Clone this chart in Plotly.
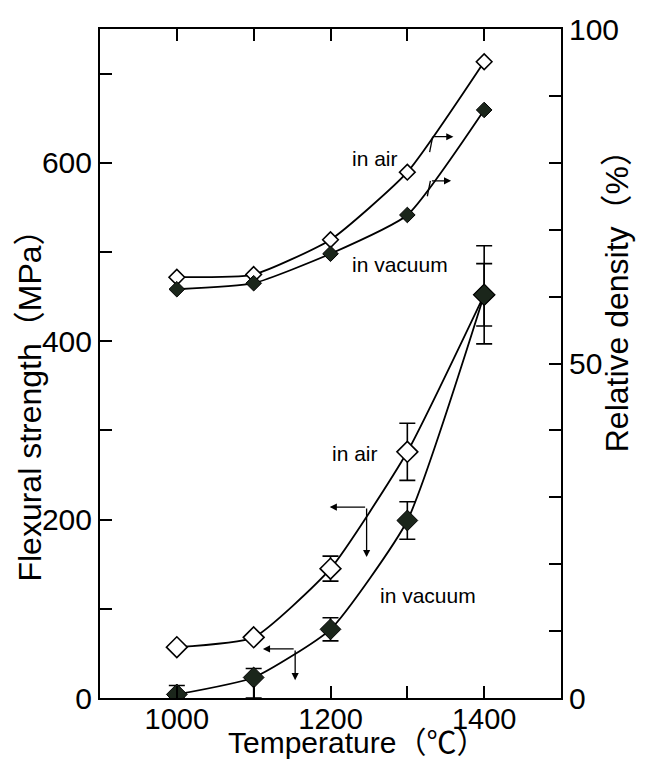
import plotly.graph_objects as go

# Sintering temperature (°C)
temperature = [1000, 1100, 1200, 1300, 1400]

# Relative density (%) — right axis
density_air = [62.9, 63.3, 68.5, 78.6, 95.1]
density_vacuum = [61.1, 62.0, 66.4, 72.2, 87.9]

# Flexural strength (MPa) with scatter — left axis
strength_air = [57, 68, 145, 276, 452]
strength_air_err = [0, 0, 14, 32, 35]
strength_vacuum = [4, 23, 77, 199, 452]
strength_vacuum_err_up = [10, 10, 13, 21, 55]
strength_vacuum_err_down = [4, 23, 13, 21, 55]

x_ticks = [1000, 1100, 1200, 1300, 1400]
x_ticklabels = ["1000", "", "1200", "", "1400"]
y_ticks = [0, 100, 200, 300, 400, 500, 600, 700]
y_ticklabels = ["0", "", "200", "", "400", "", "600", ""]
y2_ticks = [0, 10, 20, 30, 40, 50, 60, 70, 80, 90, 100]
y2_ticklabels = ["0", "", "", "", "", "50", "", "", "", "", "100"]

FONT = "Liberation Sans, Arial, Noto Sans CJK JP, sans-serif"
DARK = "#1b261b"
LINE = dict(color="black", width=1.8, shape="spline", smoothing=0.5)

fig = go.Figure()

# density curves (right axis)
fig.add_trace(go.Scatter(
    x=temperature, y=density_air, yaxis="y2", mode="lines+markers",
    line=LINE,
    marker=dict(symbol="diamond", size=12, color="white",
                line=dict(color="black", width=1.6)),
    showlegend=False))
fig.add_trace(go.Scatter(
    x=temperature, y=density_vacuum, yaxis="y2", mode="lines+markers",
    line=LINE,
    marker=dict(symbol="diamond", size=12, color=DARK,
                line=dict(color="black", width=1)),
    showlegend=False))

# strength curves (left axis)
fig.add_trace(go.Scatter(
    x=temperature, y=strength_air, mode="lines+markers",
    line=LINE,
    error_y=dict(type="data", array=strength_air_err, color="black",
                 thickness=1.6, width=8),
    marker=dict(symbol="diamond", size=16, color="white",
                line=dict(color="black", width=1.6)),
    showlegend=False))
fig.add_trace(go.Scatter(
    x=temperature, y=strength_vacuum, mode="lines+markers",
    line=LINE,
    error_y=dict(type="data", array=strength_vacuum_err_up,
                 arrayminus=strength_vacuum_err_down, symmetric=False,
                 color="black", thickness=1.6, width=8),
    marker=dict(symbol="diamond", size=16, color=DARK,
                line=dict(color="black", width=1)),
    showlegend=False))

ann = []
# curve labels
for txt, x, y, yref in [("in air", 1258, 80.7, "y2"),
                        ("in vacuum", 1290, 64.8, "y2"),
                        ("in air", 1232, 274, "y"),
                        ("in vacuum", 1327, 115, "y")]:
    ann.append(dict(text=txt, x=x, y=y, xref="x", yref=yref, showarrow=False,
                    font=dict(family=FONT, size=21, color="black")))

# axis pointers: right-pointing for density, left/down for strength
def arrow(x0, y0, x1, y1, yref):
    return dict(x=x1, y=y1, ax=x0, ay=y0, xref="x", yref=yref,
                axref="x", ayref=yref, text="", showarrow=True,
                arrowhead=2, arrowsize=1.1, arrowwidth=1.3, arrowcolor="black")

ann.append(arrow(1333, 83.9, 1360, 83.9, "y2"))
ann.append(arrow(1330, 77.3, 1357, 77.3, "y2"))
ann.append(arrow(1247, 214, 1199, 214, "y"))
ann.append(arrow(1247, 214, 1247, 158, "y"))
ann.append(arrow(1154, 55, 1112, 55, "y"))
ann.append(arrow(1154, 55, 1154, 20, "y"))

# axis titles
TITLE_FONT = dict(family=FONT, size=32, color="black")
ann.append(dict(text="Flexural strength（MPa）", x=-0.152, y=0.449,
                xref="paper", yref="paper", textangle=-90, showarrow=False,
                xanchor="center", yanchor="middle", font=TITLE_FONT))
ann.append(dict(text="Relative density（%）", x=1.1215, y=0.605,
                xref="paper", yref="paper", textangle=-90, showarrow=False,
                xanchor="center", yanchor="middle", font=TITLE_FONT))
ann.append(dict(text="Temperature（℃）", x=0.557, y=-0.094,
                xref="paper", yref="paper", showarrow=False,
                xanchor="center", yanchor="bottom",
                font=dict(family=FONT, size=30, color="black")))

# short stems joining the density pointers to their curves
shapes = [
    dict(type="line", xref="x", yref="y2", x0=1333, y0=83.9, x1=1329, y1=81.6,
         line=dict(color="black", width=1.3)),
    dict(type="line", xref="x", yref="y2", x0=1330, y0=77.3, x1=1326, y1=75.0,
         line=dict(color="black", width=1.3)),
]

tickfont = dict(family=FONT, size=30, color="black")
common = dict(ticks="inside", ticklen=12, tickwidth=1.8, tickcolor="black",
              showline=True, linecolor="black", linewidth=2,
              showgrid=False, zeroline=False)
fig.update_layout(
    width=647, height=762,
    margin=dict(l=100, r=86, t=19, b=64),
    paper_bgcolor="white", plot_bgcolor="white",
    xaxis=dict(range=[900, 1500], tickvals=x_ticks, ticktext=x_ticklabels,
               mirror="ticks", ticklabelstandoff=-6,
               tickfont=dict(family=FONT, size=29, color="black"), **common),
    yaxis=dict(range=[0, 750], tickvals=y_ticks, ticktext=y_ticklabels,
               tickfont=tickfont, **common),
    yaxis2=dict(range=[0, 100], overlaying="y", side="right",
                tickvals=y2_ticks, ticktext=y2_ticklabels,
                tickfont=tickfont, **common),
    annotations=ann,
    shapes=shapes,
)

fig.write_html("out.html")
